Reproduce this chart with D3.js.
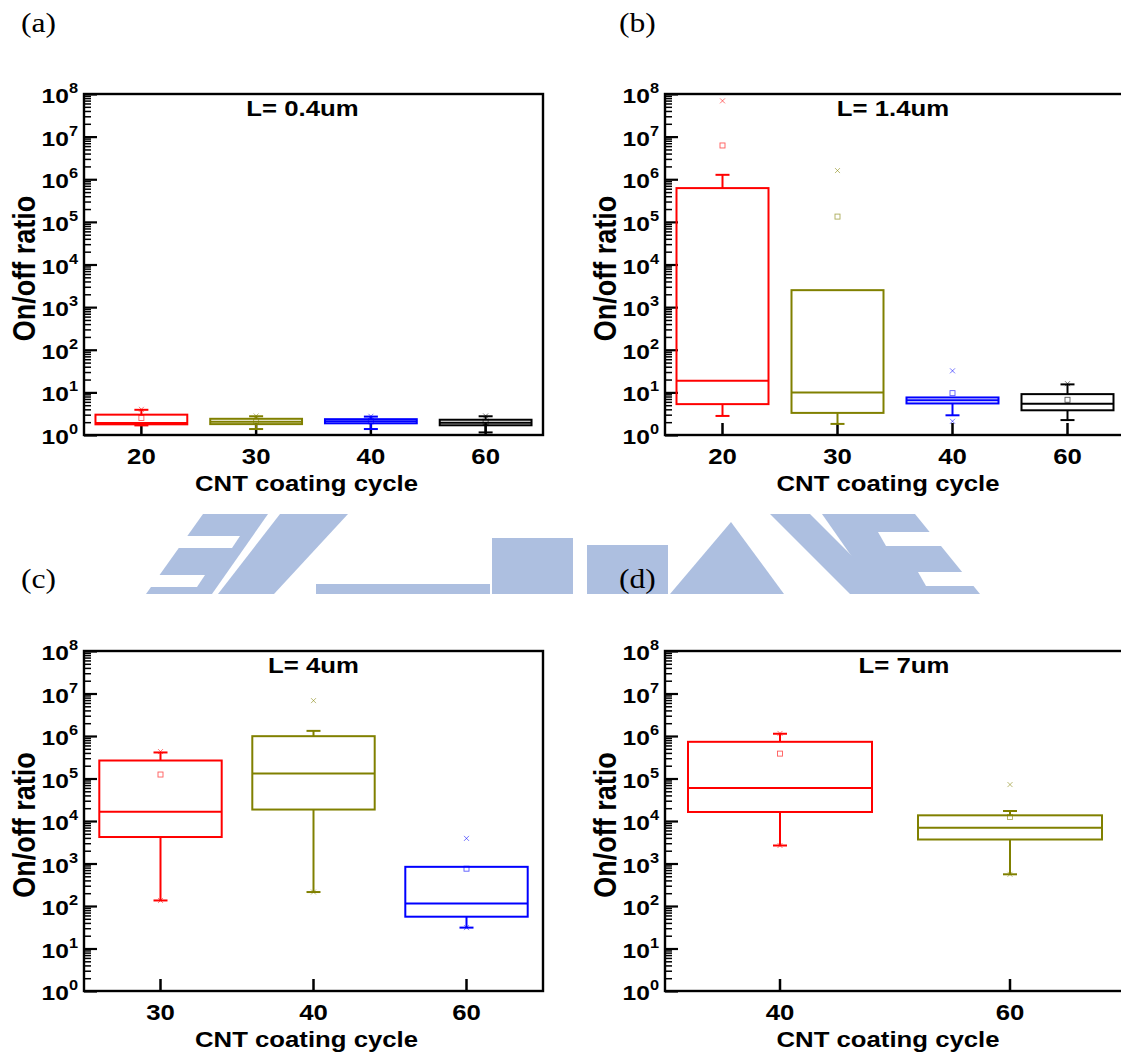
<!DOCTYPE html>
<html>
<head>
<meta charset="utf-8">
<script src="https://cdn.jsdelivr.net/npm/d3@7"></script>
<style>
  html, body { margin: 0; padding: 0; background: #ffffff; }
  svg { display: block; }
</style>
</head>
<body>
<svg id="fig" width="1121" height="1055"></svg>
<script>
// ---------- data: on/off ratio box statistics per CNT coating cycle ----------
// (a) L = 0.4 um
const cyclesA = ["20", "30", "40", "60"];
const lowA    = [1.68, 1.38, 1.38, 1.15];
const q1A     = [1.78, 1.80, 1.88, 1.69];
const medA    = [1.90, 2.05, 2.10, 1.94];
const q3A     = [3.00, 2.40, 2.35, 2.28];
const highA   = [3.90, 2.75, 2.70, 2.75];
const meanA   = [2.50, 2.10, 2.10, 2.00];
const maxA    = [4.00, 2.80, 2.75, 2.80];
const minA    = [null, null, null, null];

// (b) L = 1.4 um
const cyclesB = ["20", "30", "40", "60"];
const lowB    = [2.8, 1.82, 2.9, 2.24];
const q1B     = [5.3, 3.3, 5.5, 3.8];
const medB    = [18.7, 10, 6.5, 5.4];
const q3B     = [6.2e5, 2.5e3, 7.6, 9.1];
const highB   = [1.27e6, 2.5e3, 7.6, 15.4];
const meanB   = [6.2e6, 1.33e5, 9.6, 6.7];
const maxB    = [6.9e7, 1.6e6, 32, 16];
const minB    = [null, null, 2.1, null];

// (c) L = 4 um
const cyclesC = ["30", "40", "60"];
const lowC    = [135, 213, 31];
const q1C     = [4.2e3, 1.86e4, 56];
const medC    = [1.65e4, 1.31e5, 115];
const q3C     = [2.65e5, 9.9e5, 835];
const highC   = [4.1e5, 1.32e6, 835];
const meanC   = [1.24e5, null, 755];
const maxC    = [4.3e5, 6.8e6, 3.9e3];
const minC    = [135, 213, 31];

// (d) L = 7 um
const cyclesD = ["40", "60"];
const lowD    = [2.65e3, 557];
const q1D     = [1.63e4, 3.67e3];
const medD    = [6.0e4, 6.9e3];
const q3D     = [7.3e5, 1.36e4];
const highD   = [1.13e6, 1.72e4];
const meanD   = [3.85e5, 1.24e4];
const maxD    = [1.15e6, 7.2e4];
const minD    = [2.65e3, 557];

const yTickExponents = [0, 1, 2, 3, 4, 5, 6, 7, 8];
const boxColors = ["#ff0000", "#808000", "#0000ff", "#000000"];

// ---------- layout ----------
const SX = 1.17;               // horizontal glyph stretch of the exported figure
const FONT = "'Liberation Sans', Arial, sans-serif";
const SERIF = "'Liberation Serif', 'Times New Roman', serif";

const panels = [
  { tag: "(a)", tagX: 21, tagY: 32, title: "L= 0.4um", titleDx: -11,
    left: 84, top: 94, width: 459, height: 341,
    cats: cyclesA, low: lowA, q1: q1A, med: medA, q3: q3A, high: highA, mean: meanA, max: maxA, min: minA },
  { tag: "(b)", tagX: 619, tagY: 32, title: "L= 1.4um", titleDx: -2,
    left: 665, top: 94, width: 460, height: 341,
    cats: cyclesB, low: lowB, q1: q1B, med: medB, q3: q3B, high: highB, mean: meanB, max: maxB, min: minB },
  { tag: "(c)", tagX: 21, tagY: 588, title: "L= 4um", titleDx: 0,
    left: 84, top: 651, width: 459, height: 340,
    cats: cyclesC, low: lowC, q1: q1C, med: medC, q3: q3C, high: highC, mean: meanC, max: maxC, min: minC },
  { tag: "(d)", tagX: 619, tagY: 588, title: "L= 7um", titleDx: 9,
    left: 665, top: 651, width: 460, height: 340,
    cats: cyclesD, low: lowD, q1: q1D, med: medD, q3: q3D, high: highD, mean: meanD, max: maxD, min: minD }
];

const svg = d3.select("#fig");
svg.append("rect").attr("width", 1121).attr("height", 1055).attr("fill", "#ffffff");

// ---------- faint emblem between the two rows ----------
const emblemColor = "#adbfe0";
const emblemShapes = [
  [[203,514],[268,514],[212,594],[146,594]],
  [[280,514],[348,514],[274,594],[218,594]],
  [[316,584],[490,584],[490,594],[316,594]],
  [[492,538],[573,538],[573,594],[492,594]],
  [[587,545],[668,545],[668,594],[587,594]],
  [[670,594],[731,522],[784,594]],
  [[770,514],[810,514],[890,594],[850,594]],
  [[822,514],[915,514],[980,594],[878,594]]
];
const emblemGaps = [
  [[170,536],[240,536],[232,548],[162,548]],
  [[138,575],[205,575],[197,587],[130,587]],
  [[878,532],[945,532],[953,546],[886,546]],
  [[918,572],[985,572],[993,586],[926,586]]
];
const emblem = svg.append("g").attr("class", "emblem");
emblem.selectAll("polygon.shape").data(emblemShapes).join("polygon")
  .attr("class", "shape")
  .attr("points", d => d.map(p => p.join(",")).join(" "))
  .attr("fill", emblemColor);
emblem.selectAll("polygon.gap").data(emblemGaps).join("polygon")
  .attr("class", "gap")
  .attr("points", d => d.map(p => p.join(",")).join(" "))
  .attr("fill", "#ffffff");

// ---------- helpers ----------
function stretched(g, x, y, extra) {
  return g.append("text")
    .attr("transform", `translate(${x},${y}) scale(${SX},1)` + (extra || ""));
}

function drawPanel(p) {
  const g = svg.append("g");
  const x = d3.scaleBand().domain(p.cats)
    .range([p.left, p.left + p.width])
    .paddingInner(0.2).paddingOuter(0.1);
  const y = d3.scaleLog().domain([1, 1e8])
    .range([p.top + p.height, p.top]);
  const cx = c => x(c) + x.bandwidth() / 2;
  const bottom = p.top + p.height;

  // panel tag
  stretched(g, p.tagX, p.tagY)
    .attr("font-family", SERIF).attr("font-size", 27).attr("fill", "#000")
    .text(p.tag);

  // minor y ticks (2..9 per decade)
  const minor = [];
  for (let e = 0; e < 8; e++) for (let k = 2; k <= 9; k++) minor.push(k * Math.pow(10, e));
  g.append("g")
    .attr("transform", `translate(${p.left},0)`)
    .call(d3.axisLeft(y).tickValues(minor).tickSize(-7).tickFormat(""))
    .call(a => a.select(".domain").remove())
    .call(a => a.selectAll("line").attr("stroke", "#000").attr("stroke-width", 1.5));

  // major y ticks
  const majors = yTickExponents.map(e => Math.pow(10, e));
  g.append("g")
    .attr("transform", `translate(${p.left},0)`)
    .call(d3.axisLeft(y).tickValues(majors).tickSize(-13).tickFormat(""))
    .call(a => a.select(".domain").remove())
    .call(a => a.selectAll("line").attr("stroke", "#000").attr("stroke-width", 2.2));

  // y tick labels 10^n
  yTickExponents.forEach(e => {
    const t = stretched(g, p.left - 6, y(Math.pow(10, e)) + 9)
      .attr("font-family", FONT).attr("font-weight", "bold")
      .attr("font-size", 21).attr("text-anchor", "end").attr("fill", "#000");
    t.append("tspan").text("10");
    t.append("tspan").attr("dy", -10).attr("font-size", 14).text(String(e));
  });

  // x ticks
  g.append("g")
    .attr("transform", `translate(0,${bottom})`)
    .call(d3.axisBottom(x).tickSize(-12).tickFormat(""))
    .call(a => a.select(".domain").remove())
    .call(a => a.selectAll("line").attr("stroke", "#000").attr("stroke-width", 2.5));

  // x tick labels
  p.cats.forEach(c => {
    stretched(g, cx(c), bottom + 29)
      .attr("font-family", FONT).attr("font-weight", "bold")
      .attr("font-size", 22).attr("text-anchor", "middle").attr("fill", "#000")
      .text(c);
  });

  // axis titles
  stretched(g, p.left + p.width / 2 - 7, bottom + 56)
    .attr("font-family", FONT).attr("font-weight", "bold")
    .attr("font-size", 22).attr("text-anchor", "middle").attr("fill", "#000")
    .text("CNT coating cycle");
  stretched(g, p.left - 49, p.top + p.height / 2 + 4, " rotate(-90)")
    .attr("font-family", FONT).attr("font-weight", "bold")
    .attr("font-size", 27).attr("text-anchor", "middle").attr("fill", "#000")
    .text("On/off ratio");

  // panel title
  stretched(g, p.left + p.width / 2 + p.titleDx, p.top + 22)
    .attr("font-family", FONT).attr("font-weight", "bold")
    .attr("font-size", 22).attr("text-anchor", "middle").attr("fill", "#000")
    .text(p.title);

  // boxes
  const rows = p.cats.map((c, i) => ({
    c, color: boxColors[i],
    low: p.low[i], q1: p.q1[i], med: p.med[i], q3: p.q3[i], high: p.high[i],
    mean: p.mean[i], max: p.max[i], min: p.min[i]
  }));
  const bw = x.bandwidth();
  const capW = 14;
  const box = g.append("g").selectAll("g").data(rows).join("g")
    .attr("stroke", d => d.color).attr("fill", "none");

  // whiskers
  box.filter(d => d.high > d.q3).append("line")
    .attr("x1", d => cx(d.c)).attr("x2", d => cx(d.c))
    .attr("y1", d => y(d.q3)).attr("y2", d => y(d.high)).attr("stroke-width", 2);
  box.filter(d => d.high > d.q3).append("line")
    .attr("x1", d => cx(d.c) - capW / 2).attr("x2", d => cx(d.c) + capW / 2)
    .attr("y1", d => y(d.high)).attr("y2", d => y(d.high)).attr("stroke-width", 2);
  box.filter(d => d.low < d.q1).append("line")
    .attr("x1", d => cx(d.c)).attr("x2", d => cx(d.c))
    .attr("y1", d => y(d.q1)).attr("y2", d => y(d.low)).attr("stroke-width", 2);
  box.filter(d => d.low < d.q1).append("line")
    .attr("x1", d => cx(d.c) - capW / 2).attr("x2", d => cx(d.c) + capW / 2)
    .attr("y1", d => y(d.low)).attr("y2", d => y(d.low)).attr("stroke-width", 2);

  // box and median
  box.append("rect")
    .attr("x", d => x(d.c)).attr("width", bw)
    .attr("y", d => y(d.q3)).attr("height", d => y(d.q1) - y(d.q3))
    .attr("stroke-width", 2);
  box.append("line")
    .attr("x1", d => x(d.c)).attr("x2", d => x(d.c) + bw)
    .attr("y1", d => y(d.med)).attr("y2", d => y(d.med)).attr("stroke-width", 2);

  // mean square
  box.filter(d => d.mean != null).append("rect")
    .attr("x", d => cx(d.c) - 2.5).attr("y", d => y(d.mean) - 2.5)
    .attr("width", 5).attr("height", 5).attr("stroke-width", 0.9)
    .attr("stroke-opacity", 0.65);

  // 1% / 99% crosses
  const cross = (sel, key) => sel.filter(d => d[key] != null).append("path")
    .attr("d", d => {
      const px = cx(d.c), py = y(d[key]), r = 2.5;
      return `M${px - r},${py - r}L${px + r},${py + r}M${px - r},${py + r}L${px + r},${py - r}`;
    })
    .attr("stroke-width", 0.9).attr("stroke-opacity", 0.6);
  cross(box, "max");
  cross(box, "min");

  // frame
  g.append("rect")
    .attr("x", p.left).attr("y", p.top).attr("width", p.width).attr("height", p.height)
    .attr("fill", "none").attr("stroke", "#000").attr("stroke-width", 2.4);
}

panels.forEach(drawPanel);
</script>
</body>
</html>
